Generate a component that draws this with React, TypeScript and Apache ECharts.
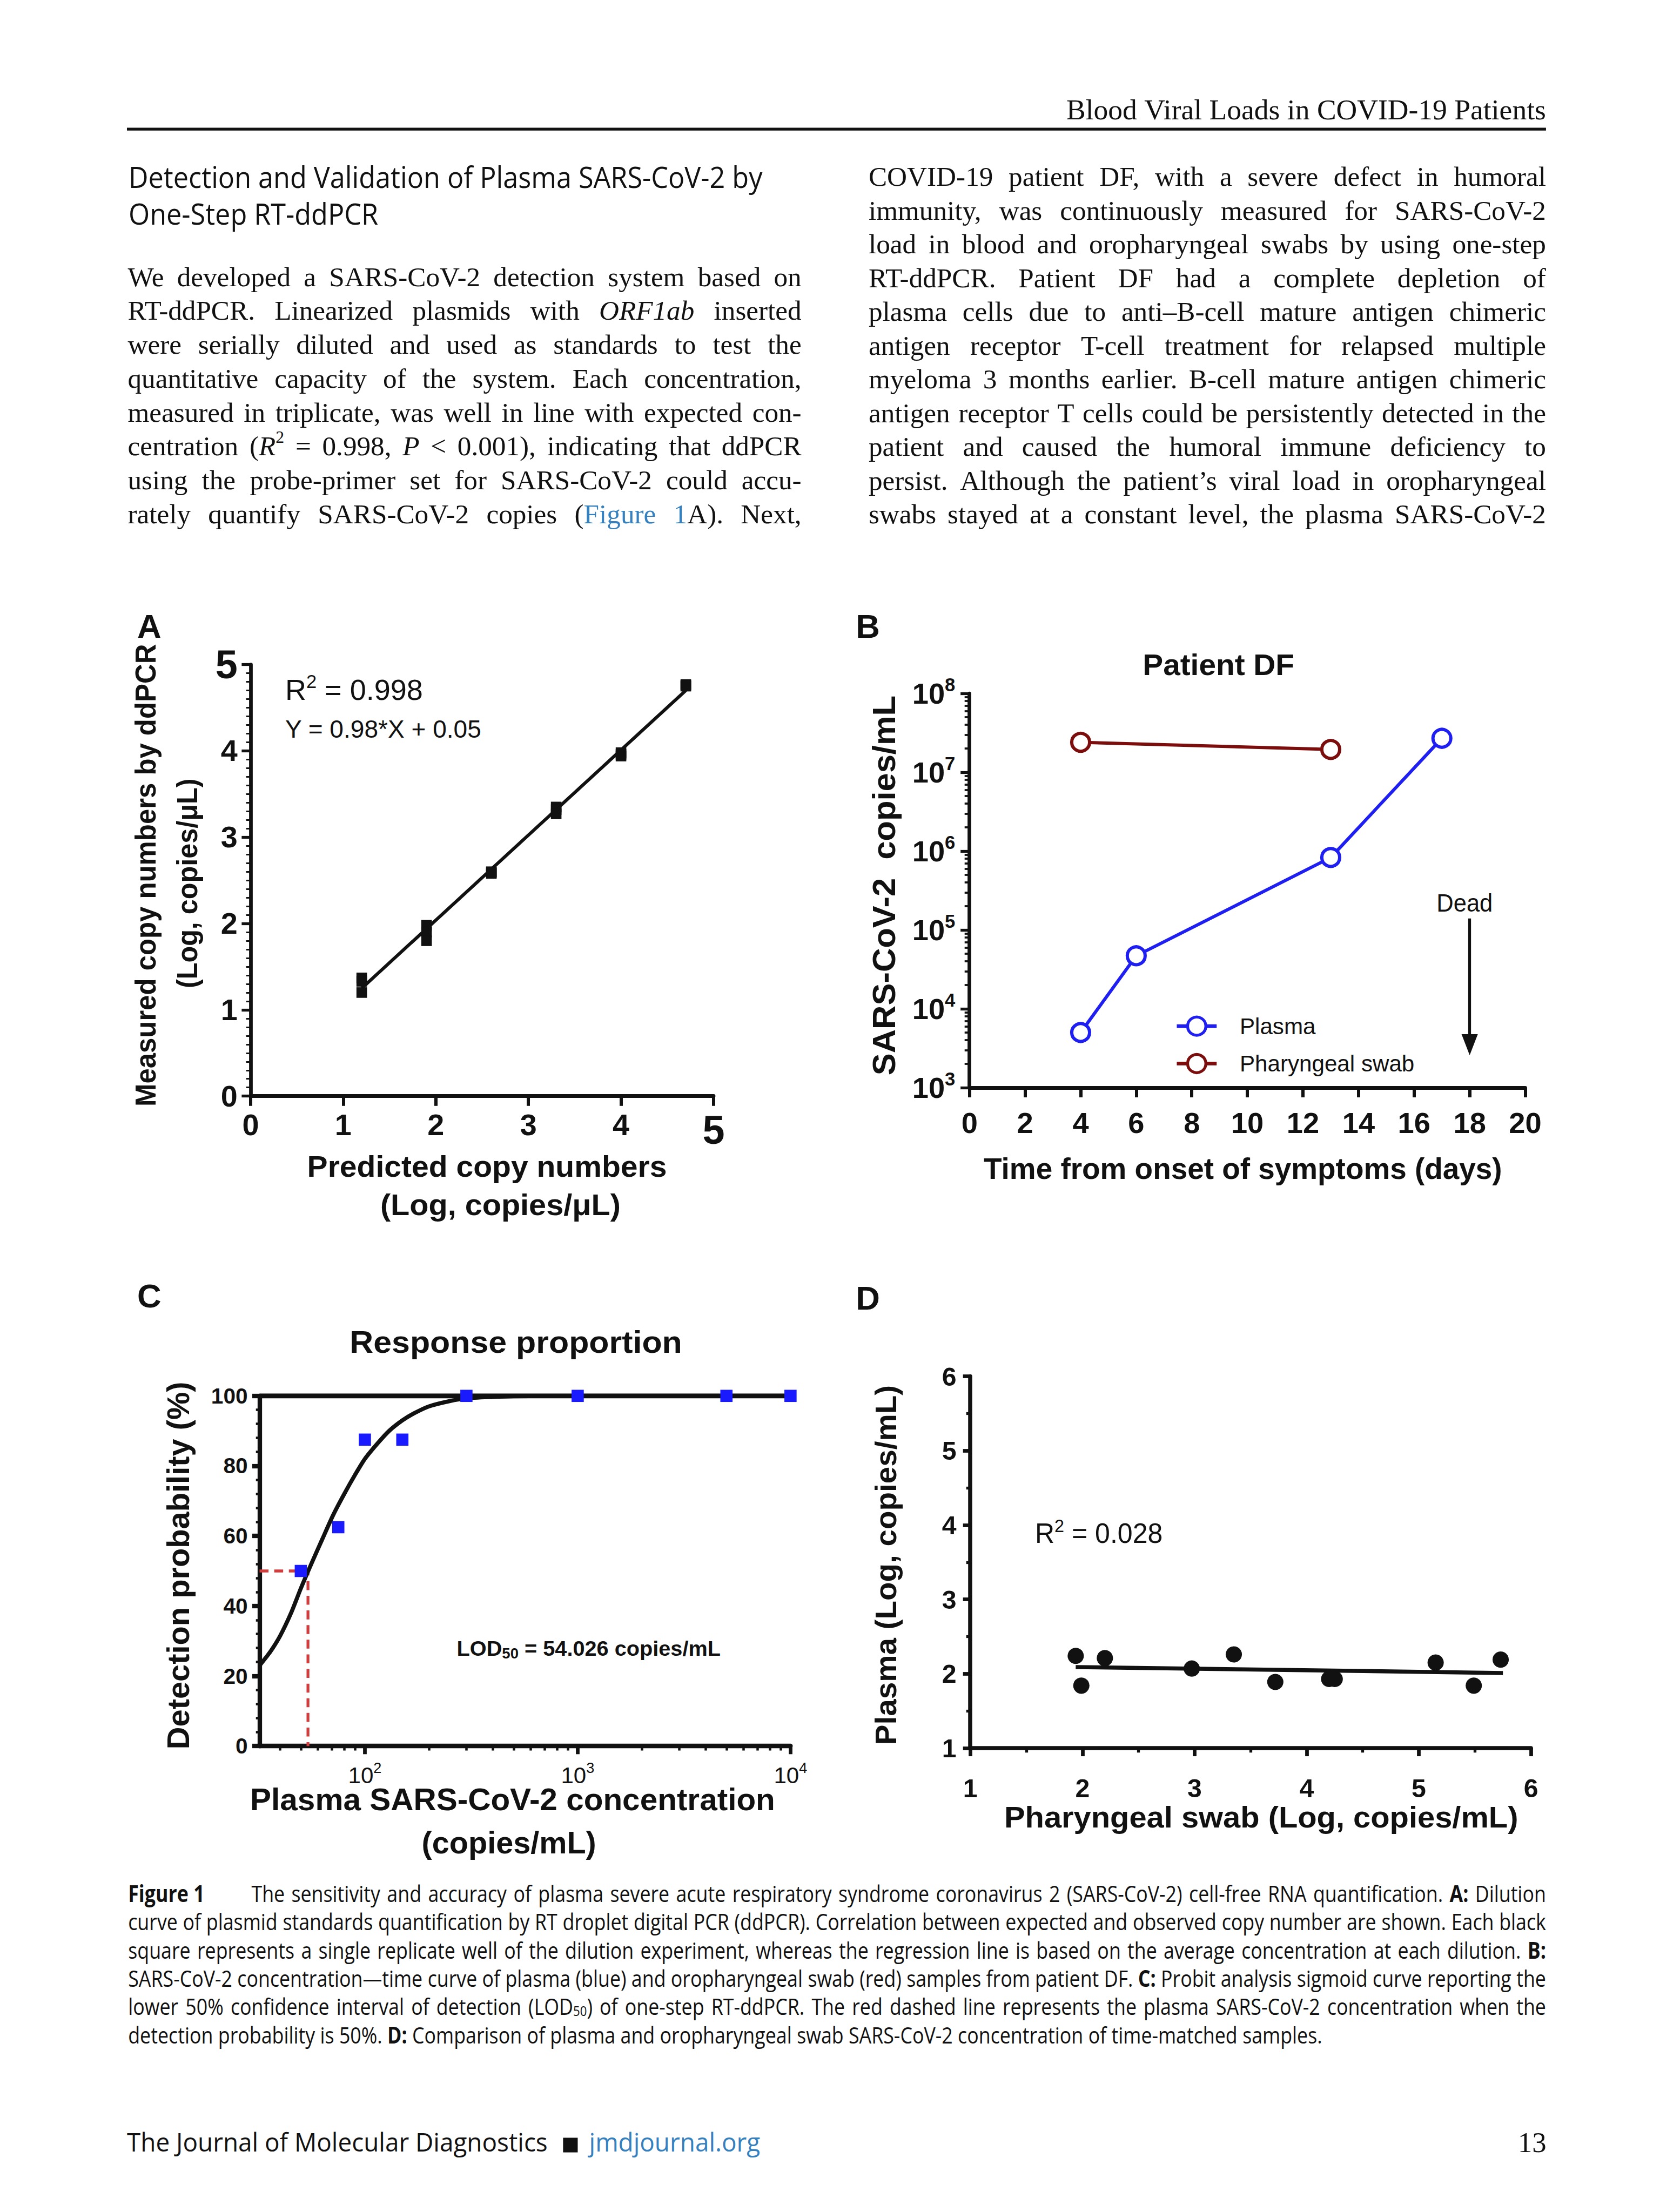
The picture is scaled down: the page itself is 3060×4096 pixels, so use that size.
import React, { useEffect, useRef } from 'react';
import * as echarts from 'echarts';

const W = 3060;
const H = 4096;
const K = W / 4063;
const p = (v: number) => v * K;

const F = "'Liberation Sans', Arial, sans-serif";
const SERIF = "'Liberation Serif', 'Times New Roman', serif";
const COND = "'Open Sans', sans-serif";
const INK = '#111111';
const BLUE = '#1f1ff2';
const DARKRED = '#7c0d0d';
const SQBLUE = '#1a1aff';
const DASHRED = '#d23c3c';
const LINK = '#3580be';

// ---------------- page text ----------------
const headerText = 'Blood Viral Loads in COVID-19 Patients';
const headingLines = ['Detection and Validation of Plasma SARS-CoV-2 by', 'One-Step RT-ddPCR'];
const leftBody = [
  'We developed a SARS-CoV-2 detection system based on',
  'RT-ddPCR. Linearized plasmids with *ORF1ab* inserted',
  'were serially diluted and used as standards to test the',
  'quantitative capacity of the system. Each concentration,',
  'measured in triplicate, was well in line with expected con-',
  'centration (*R*^2^ = 0.998, *P* < 0.001), indicating that ddPCR',
  'using the probe-primer set for SARS-CoV-2 could accu-',
  'rately quantify SARS-CoV-2 copies ({Figure 1}A). Next,',
];
const rightBody = [
  'COVID-19 patient DF, with a severe defect in humoral',
  'immunity, was continuously measured for SARS-CoV-2',
  'load in blood and oropharyngeal swabs by using one-step',
  'RT-ddPCR. Patient DF had a complete depletion of',
  'plasma cells due to anti–B-cell mature antigen chimeric',
  'antigen receptor T-cell treatment for relapsed multiple',
  'myeloma 3 months earlier. B-cell mature antigen chimeric',
  'antigen receptor T cells could be persistently detected in the',
  'patient and caused the humoral immune deficiency to',
  'persist. Although the patient’s viral load in oropharyngeal',
  'swabs stayed at a constant level, the plasma SARS-CoV-2',
];
const captionLabel = '#Figure 1#';
const captionLines = [
  'The sensitivity and accuracy of plasma severe acute respiratory syndrome coronavirus 2 (SARS-CoV-2) cell-free RNA quantification. #A:# Dilution',
  'curve of plasmid standards quantification by RT droplet digital PCR (ddPCR). Correlation between expected and observed copy number are shown. Each black',
  'square represents a single replicate well of the dilution experiment, whereas the regression line is based on the average concentration at each dilution. #B:#',
  'SARS-CoV-2 concentration—time curve of plasma (blue) and oropharyngeal swab (red) samples from patient DF. #C:# Probit analysis sigmoid curve reporting the',
  'lower 50% confidence interval of detection (LOD~50~) of one-step RT-ddPCR. The red dashed line represents the plasma SARS-CoV-2 concentration when the',
  'detection probability is 50%. #D:# Comparison of plasma and oropharyngeal swab SARS-CoV-2 concentration of time-matched samples.',
];
const footerLeft = 'The Journal of Molecular Diagnostics';
const footerLink = 'jmdjournal.org';
const pageNumber = '13';

// ---------------- panel A ----------------
const aPredicted = [1.2, 1.2, 1.2, 1.9, 1.9, 1.9, 2.6, 2.6, 2.6, 3.3, 3.3, 3.3, 4.0, 4.0, 4.0, 4.7, 4.7, 4.7];
const aMeasured = [1.37, 1.33, 1.2, 1.98, 1.9, 1.8, 2.58, 2.6, 2.59, 3.35, 3.32, 3.27, 3.98, 3.96, 3.94, 4.77, 4.76, 4.75];
const aFitX = [1.2, 4.7];
const aFitY = [1.25, 4.7];

// ---------------- panel B ----------------
const plasmaDays = [4, 6, 13, 17];
const plasmaLoad = [5000, 47000, 830000, 27000000];
const swabDays = [4, 13];
const swabLoad = [24000000, 19500000];
const deadDay = 18;
const deadArrowFrom = 140000;
const deadArrowTo = 3500;
const bDecades = [1e3, 1e4, 1e5, 1e6, 1e7, 1e8];
const logMinorSteps = [2, 3, 4, 5, 6, 7, 8, 9];

// ---------------- panel C ----------------
const cConc = [50, 75, 100, 150, 300, 1000, 5000, 10000];
const cProb = [50, 62.5, 87.5, 87.5, 100, 100, 100, 100];
const curveConc = [32, 36, 40, 45, 50, 56, 63, 71, 80, 90, 100, 115, 130, 150, 170, 200, 250, 300, 400, 500, 1000, 10000];
const curveProb = [23, 27, 31.5, 38, 45, 52, 59, 66, 72, 77.5, 82, 86.5, 90, 93, 95, 97, 98.5, 99.3, 99.7, 99.9, 100, 100];
const lod50 = 54.026;
const cMin = 32;
const cMax = 10000;
const cMajor = [100, 1000, 10000];
const cMinorDecades = [10, 100, 1000];

// ---------------- panel D ----------------
const dSwab = [1.94, 1.99, 2.2, 2.975, 3.35, 3.72, 4.2, 4.25, 5.15, 5.49, 5.73];
const dPlasma = [2.24, 1.84, 2.21, 2.07, 2.26, 1.89, 1.93, 1.93, 2.15, 1.84, 2.19];
const dFitX = [1.94, 5.75];
const dFitY = [2.09, 2.01];

// ---------------- text helpers ----------------
type Seg = { t: string; i?: boolean; b?: boolean; c?: string; sup?: boolean; sub?: boolean };

function parseWords(line: string): Seg[][] {
  const words: Seg[][] = [];
  const st = { i: false, b: false, blue: false, sup: false, sub: false };
  for (const w of line.split(' ')) {
    if (w === '') continue;
    const segs: Seg[] = [];
    let buf = '';
    const flush = () => {
      if (buf) {
        segs.push({ t: buf, i: st.i, b: st.b, c: st.blue ? LINK : undefined, sup: st.sup, sub: st.sub });
        buf = '';
      }
    };
    for (const ch of w) {
      if (ch === '*') { flush(); st.i = !st.i; }
      else if (ch === '#') { flush(); st.b = !st.b; }
      else if (ch === '^') { flush(); st.sup = !st.sup; }
      else if (ch === '~') { flush(); st.sub = !st.sub; }
      else if (ch === '{') { flush(); st.blue = true; }
      else if (ch === '}') { flush(); st.blue = false; }
      else buf += ch;
    }
    flush();
    if (segs.length) words.push(segs);
  }
  return words;
}

let ctx: CanvasRenderingContext2D | null = null;
function measure(text: string, font: string) {
  if (!ctx) ctx = document.createElement('canvas').getContext('2d');
  ctx!.font = font;
  return ctx!.measureText(text).width;
}
function segW(sg: Seg, fs: number, fam: string) {
  const size = sg.sup || sg.sub ? fs * 0.62 : fs;
  return measure(sg.t, `${sg.i ? 'italic ' : ''}${sg.b ? 'bold ' : ''}${size}px ${fam}`);
}
function natW(line: string, fs: number, fam: string) {
  const words = parseWords(line);
  const sum = words.reduce((s, w) => s + w.reduce((a, sg) => a + segW(sg, fs, fam), 0), 0);
  return sum + (words.length - 1) * segW({ t: ' ' }, fs, fam);
}

function layout(
  els: any[], line: string, x0: number, x1: number, y: number, fs: number, fam: string,
  mode: 'justify' | 'left' | 'right', k0 = 1, color = INK,
) {
  const words = parseWords(line);
  const ws = words.map((w) => w.reduce((s, sg) => s + segW(sg, fs, fam), 0));
  const sp = segW({ t: ' ' }, fs, fam);
  const sum = ws.reduce((a, b) => a + b, 0);
  const n = words.length;
  let k = k0;
  let gap = sp * k0;
  const avail = x1 - x0;
  if (mode === 'justify' && n > 1) {
    const minNat = sum * k0 + (n - 1) * sp * k0 * 0.75;
    if (minNat > avail) k = (k0 * avail) / minNat;
    gap = (avail - sum * k) / (n - 1);
  }
  let cx = mode === 'right' ? x1 - (sum * k + (n - 1) * gap) : x0;
  words.forEach((w) => {
    w.forEach((sg) => {
      const size = sg.sup || sg.sub ? fs * 0.62 : fs;
      const dy = sg.sup ? -0.32 * fs : sg.sub ? 0.2 * fs : 0;
      els.push({
        type: 'text', silent: true, x: p(cx), y: p(y + dy), scaleX: k,
        style: {
          text: sg.t, fontSize: p(size), fontFamily: fam,
          fontStyle: sg.i ? 'italic' : 'normal', fontWeight: sg.b ? 'bold' : 'normal',
          fill: sg.c || color, align: 'left', verticalAlign: 'middle',
          textAlign: 'left', textVerticalAlign: 'middle',
        },
      });
      cx += segW(sg, fs, fam) * k;
    });
    cx += gap;
  });
}

// plain / rich text; optional target width w (full-size px) squeezes or stretches it horizontally
function T(x: number, y: number, text: string, fs: number, o: any = {}) {
  let k = 1;
  if (o.w) {
    const nat = measure(o.plain || text, `${o.bold ? 'bold ' : ''}${fs}px ${o.font || F}`);
    k = o.w / nat;
  }
  return {
    type: 'text', silent: true, x: p(x), y: p(y), rotation: o.rot || 0, scaleX: k,
    style: {
      text, fontSize: p(fs), fontFamily: o.font || F, fontWeight: o.bold ? 'bold' : 'normal',
      fill: o.color || INK, align: o.align || 'center', verticalAlign: 'middle',
      textAlign: o.align || 'center', textVerticalAlign: 'middle', rich: o.rich,
    },
  };
}

function zip(a: number[], b: number[]) {
  return a.map((v, i) => [v, b[i]]);
}

function buildOption() {
  const els: any[] = [];
  // header
  const kHead = 1179 / natW(headerText, 70, SERIF);
  layout(els, headerText, 2621, 3800, 270, 70, SERIF, 'right', kHead);
  els.push({ type: 'rect', silent: true, shape: { x: p(312), y: p(314), width: p(3488), height: p(7) }, style: { fill: INK } });
  // heading
  const kHd = 1558 / natW(headingLines[0], 72, COND);
  layout(els, headingLines[0], 316, 1874, 434, 72, COND, 'left', kHd);
  layout(els, headingLines[1], 316, 1874, 524, 72, COND, 'left', kHd);
  // body
  leftBody.forEach((l, i) => layout(els, l, 314, 1970, 680 + 83.3 * i, 68, SERIF, 'justify'));
  rightBody.forEach((l, i) => layout(els, l, 2135, 3800, 434 + 83.0 * i, 68, SERIF, 'justify'));
  // caption
  const kCap = 2935 / natW(captionLines[5], 56, COND);
  layout(els, captionLabel, 315, 600, 4654, 56, COND, 'left', kCap);
  captionLines.forEach((l, i) => {
    const y = 4654 + 69.6 * i;
    if (i === 0) layout(els, l, 618, 3800, y, 56, COND, 'justify', kCap);
    else if (i === captionLines.length - 1) layout(els, l, 315, 3800, y, 56, COND, 'left', kCap);
    else layout(els, l, 315, 3800, y, 56, COND, 'justify', kCap);
  });
  // footer
  const kFoot = 1034 / natW(footerLeft, 62, COND);
  layout(els, footerLeft, 312, 1345, 5267, 62, COND, 'left', kFoot);
  els.push({ type: 'rect', silent: true, shape: { x: p(1384), y: p(5256), width: p(36), height: p(36) }, style: { fill: INK } });
  layout(els, footerLink, 1448, 1870, 5267, 62, COND, 'left', kFoot, LINK);
  layout(els, pageNumber, 3600, 3801, 5267, 70, SERIF, 'right');

  // panel letters
  els.push(T(367, 1540, 'A', 82, { bold: true }));
  els.push(T(2133, 1540, 'B', 82, { bold: true }));
  els.push(T(367, 3186, 'C', 82, { bold: true }));
  els.push(T(2133, 3191, 'D', 82, { bold: true }));

  // panel A texts
  els.push(T(1197, 2868, 'Predicted copy numbers', 74, { bold: true, w: 884 }));
  els.push(T(1230, 2962, '(Log, copies/μL)', 74, { bold: true, w: 591 }));
  els.push(T(357, 2152, 'Measured copy numbers by ddPCR', 72, { bold: true, rot: Math.PI / 2, w: 1137 }));
  els.push(T(460, 2172, '(Log, copies/μL)', 72, { bold: true, rot: Math.PI / 2, w: 516 }));
  els.push(T(701, 1695, '{r|R}{s|2}{r| = 0.998}', 72, {
    align: 'left', w: 353, plain: 'R2 = 0.998',
    rich: {
      r: { fontSize: p(72), fontFamily: F, color: INK, lineHeight: p(86) },
      s: { fontSize: p(46), fontFamily: F, color: INK, lineHeight: p(40), verticalAlign: 'top' },
    },
  }));
  els.push(T(701, 1792, 'Y = 0.98*X + 0.05', 62, { align: 'left', w: 483 }));

  // panel B texts
  els.push(T(2995, 1634, 'Patient DF', 74, { bold: true, w: 373 }));
  els.push(T(3055, 2873, 'Time from onset of symptoms (days)', 74, { bold: true, w: 1275 }));
  els.push(T(2173, 2177, 'SARS-CoV-2  copies/mL', 78, { bold: true, rot: Math.PI / 2, w: 934 }));
  els.push(T(3600, 2220, 'Dead', 62, { w: 138 }));

  // panel C texts
  els.push(T(1268, 3301, 'Response proportion', 76, { bold: true, w: 818 }));
  els.push(T(1260, 4425, 'Plasma SARS-CoV-2 concentration', 76, { bold: true, w: 1290 }));
  els.push(T(1251, 4531, '(copies/mL)', 76, { bold: true, w: 429 }));
  els.push(T(438, 3849, 'Detection probability (%)', 76, { bold: true, rot: Math.PI / 2, w: 904 }));
  els.push(T(1447, 4052, `{b|LOD}{s|50}{b| = ${lod50} copies/mL}`, 52, {
    bold: true, w: 667, plain: `LOD50 = ${lod50} copies/mL`,
    rich: {
      b: { fontSize: p(52), fontFamily: F, fontWeight: 'bold', color: INK, lineHeight: p(62) },
      s: { fontSize: p(36), fontFamily: F, fontWeight: 'bold', color: INK, lineHeight: p(52), verticalAlign: 'bottom' },
    },
  }));

  // panel D texts
  els.push(T(3100, 4468, 'Pharyngeal swab (Log, copies/mL)', 74, { bold: true, w: 1263 }));
  els.push(T(2177, 3848, 'Plasma (Log, copies/mL)', 74, { bold: true, rot: Math.PI / 2, w: 885 }));
  els.push(T(2544, 3770, '{r|R}{s|2}{r| = 0.028}', 68, {
    align: 'left', w: 327, plain: 'R2 = 0.028',
    rich: {
      r: { fontSize: p(68), fontFamily: F, color: INK, lineHeight: p(82) },
      s: { fontSize: p(44), fontFamily: F, color: INK, lineHeight: p(38), verticalAlign: 'top' },
    },
  }));

  const lbl = (fs: number, bold = true) => ({ fontSize: p(fs), fontFamily: F, fontWeight: bold ? 'bold' : 'normal', color: INK });
  const bBig = { fontSize: p(72), fontFamily: F, fontWeight: 'bold', color: INK, lineHeight: p(88) };
  const bSup = { fontSize: p(46), fontFamily: F, fontWeight: 'bold', color: INK, lineHeight: p(38), verticalAlign: 'top' };
  const cBig = { fontSize: p(56), fontFamily: F, color: INK, lineHeight: p(72) };
  const cSup = { fontSize: p(36), fontFamily: F, color: INK, lineHeight: p(30), verticalAlign: 'top' };
  const powFmt = (v: number) => {
    const l = Math.log10(v);
    if (Math.abs(l - Math.round(l)) > 1e-6) return '';
    return `{b|10}{s|${Math.round(l)}}`;
  };
  const bMinor: number[] = [];
  bDecades.slice(0, -1).forEach((d) => logMinorSteps.forEach((m) => bMinor.push(d * m)));
  const cMinor: number[] = [];
  cMinorDecades.forEach((d) => logMinorSteps.forEach((m) => { const v = d * m; if (v > cMin && v < cMax) cMinor.push(v); }));

  const grid = (l: number, t: number, w: number, h: number) => ({
    left: p(l), top: p(t), width: p(w), height: p(h), containLabel: false, outerBoundsMode: 'none',
  });

  const axLine = (w: number) => ({ show: true, onZero: false, lineStyle: { color: INK, width: p(w) } });
  const tick = (len: number, w: number, extra: any = {}) => ({ show: true, length: p(len), lineStyle: { color: INK, width: p(w) }, ...extra });
  const noSplit = { show: false };

  const option: any = {
    animation: false,
    backgroundColor: '#ffffff',
    textStyle: { fontFamily: F },
    grid: [
      grid(616, 1634, 1138, 1061),
      grid(2383, 1705, 1366, 969),
      grid(638, 3432, 1305, 861),
      grid(2385, 3384, 1378, 914),
    ],
    xAxis: [
      {
        gridIndex: 0, type: 'value', min: 0, max: 5, interval: 1, axisLine: axLine(9), axisTick: tick(24, 8),
        splitLine: noSplit, showMinLabel: true, showMaxLabel: true,
        axisLabel: {
          margin: p(34), formatter: (v: number) => (v === 5 ? '{big|5}' : `{n|${v}}`),
          rich: { n: lbl(74), big: lbl(98) },
        },
      },
      {
        gridIndex: 1, type: 'value', min: 0, max: 20, interval: 2, axisLine: axLine(9), axisTick: tick(24, 8),
        splitLine: noSplit, showMinLabel: true, showMaxLabel: true,
        axisLabel: { margin: p(51), ...lbl(72) },
      },
      {
        gridIndex: 2, type: 'log', logBase: 10, min: cMin, max: cMax, position: 'bottom',
        axisLine: axLine(11), axisTick: tick(20, 9, { customValues: cMajor }), splitLine: noSplit,
        axisLabel: { margin: p(36), customValues: cMajor, formatter: powFmt, rich: { b: cBig, s: cSup } },
      },
      {
        gridIndex: 2, type: 'log', logBase: 10, min: cMin, max: cMax, position: 'bottom',
        axisLine: { show: false }, axisLabel: { show: false }, splitLine: noSplit,
        axisTick: tick(11, 6, { customValues: cMinor }),
      },
      {
        gridIndex: 3, type: 'value', min: 1, max: 6, interval: 1, axisLine: axLine(10), axisTick: tick(20, 9),
        minorTick: { show: true, splitNumber: 2, length: p(11), lineStyle: { color: INK, width: p(7) } },
        splitLine: noSplit, minorSplitLine: { show: false }, showMinLabel: true, showMaxLabel: true,
        axisLabel: { margin: p(67), ...lbl(64) },
      },
    ],
    yAxis: [
      {
        gridIndex: 0, type: 'value', min: 0, max: 5, interval: 1, axisLine: axLine(9), axisTick: tick(22, 7),
        minorTick: { show: true, splitNumber: 10, length: p(11), lineStyle: { color: INK, width: p(4) } },
        splitLine: noSplit, minorSplitLine: { show: false }, showMinLabel: true, showMaxLabel: true,
        axisLabel: {
          margin: p(32), formatter: (v: number) => (v === 5 ? '{big|5}' : `{n|${v}}`),
          rich: { n: lbl(74), big: lbl(98) },
        },
      },
      {
        gridIndex: 1, type: 'log', logBase: 10, min: 1e3, max: 1e8, position: 'left',
        axisLine: axLine(9), axisTick: tick(22, 7, { customValues: bDecades }), splitLine: noSplit,
        axisLabel: { margin: p(35), customValues: bDecades, formatter: powFmt, rich: { b: bBig, s: bSup } },
      },
      {
        gridIndex: 1, type: 'log', logBase: 10, min: 1e3, max: 1e8, position: 'left',
        axisLine: { show: false }, axisLabel: { show: false }, splitLine: noSplit,
        axisTick: tick(12, 5, { customValues: bMinor }),
      },
      {
        gridIndex: 2, type: 'value', min: 0, max: 100, interval: 20, axisLine: axLine(11), axisTick: tick(18, 11),
        minorTick: { show: true, splitNumber: 5, length: p(9), lineStyle: { color: INK, width: p(6) } },
        splitLine: noSplit, minorSplitLine: { show: false }, showMinLabel: true, showMaxLabel: true,
        axisLabel: { margin: p(29), ...lbl(54) },
      },
      {
        gridIndex: 3, type: 'value', min: 1, max: 6, interval: 1, axisLine: axLine(10), axisTick: tick(18, 9),
        minorTick: { show: true, splitNumber: 2, length: p(10), lineStyle: { color: INK, width: p(7) } },
        splitLine: noSplit, minorSplitLine: { show: false }, showMinLabel: true, showMaxLabel: true,
        axisLabel: { margin: p(34), ...lbl(64) },
      },
    ],
    legend: {
      show: true, data: ['Plasma', 'Pharyngeal swab'], orient: 'vertical', selectedMode: false,
      left: p(2888), top: p(2523) - p(56) / 2, padding: 0,
      itemWidth: p(98), itemHeight: p(56), itemGap: p(92) - p(56),
      lineStyle: { width: p(9) },
      itemStyle: { borderWidth: p(7) },
      textStyle: { fontSize: p(56), fontFamily: F, color: INK, lineHeight: p(56), padding: [0, 0, 0, p(50)] },
    },
    series: [
      // A
      {
        type: 'line', xAxisIndex: 0, yAxisIndex: 0, data: zip(aFitX, aFitY), symbol: 'none', silent: true,
        lineStyle: { color: INK, width: p(8) }, z: 2,
      },
      {
        type: 'scatter', xAxisIndex: 0, yAxisIndex: 0, data: zip(aPredicted, aMeasured), symbol: 'rect',
        symbolSize: p(26), itemStyle: { color: INK, opacity: 1 }, silent: true, z: 3,
      },
      // B
      {
        type: 'line', name: 'Plasma', xAxisIndex: 1, yAxisIndex: 1, data: zip(plasmaDays, plasmaLoad),
        symbol: 'circle', symbolSize: p(44), lineStyle: { color: BLUE, width: p(8) },
        itemStyle: { color: '#ffffff', borderColor: BLUE, borderWidth: p(8) }, silent: true, z: 3,
        markLine: {
          silent: true, symbol: ['none', 'triangle'], symbolSize: [p(40), p(52)],
          lineStyle: { color: INK, width: p(7), type: 'solid' }, label: { show: false },
          data: [[{ coord: [deadDay, deadArrowFrom] }, { coord: [deadDay, deadArrowTo] }]],
        },
      },
      {
        type: 'line', name: 'Pharyngeal swab', xAxisIndex: 1, yAxisIndex: 1, data: zip(swabDays, swabLoad),
        symbol: 'circle', symbolSize: p(44), lineStyle: { color: DARKRED, width: p(8) },
        itemStyle: { color: '#ffffff', borderColor: DARKRED, borderWidth: p(8) }, silent: true, z: 3,
      },
      // C
      {
        type: 'line', xAxisIndex: 2, yAxisIndex: 3, data: [[cMin, 100], [cMax, 100]], symbol: 'none', silent: true,
        lineStyle: { color: INK, width: p(12) }, z: 2,
      },
      {
        type: 'line', xAxisIndex: 2, yAxisIndex: 3, data: [[cMin, 50], [lod50, 50], [lod50, 0]], symbol: 'none',
        silent: true, lineStyle: { color: DASHRED, width: p(7), type: [p(22), p(14)] }, z: 2,
      },
      {
        type: 'line', xAxisIndex: 2, yAxisIndex: 3, data: zip(curveConc, curveProb), symbol: 'none', silent: true,
        smooth: 0.25, lineStyle: { color: INK, width: p(10) }, z: 3,
      },
      {
        type: 'scatter', xAxisIndex: 2, yAxisIndex: 3, data: zip(cConc, cProb), symbol: 'rect', symbolSize: p(30),
        itemStyle: { color: SQBLUE, opacity: 1 }, silent: true, z: 4,
      },
      // D
      {
        type: 'line', xAxisIndex: 4, yAxisIndex: 4, data: zip(dFitX, dFitY), symbol: 'none', silent: true,
        lineStyle: { color: INK, width: p(10) }, z: 2,
      },
      {
        type: 'scatter', xAxisIndex: 4, yAxisIndex: 4, data: zip(dSwab, dPlasma), symbol: 'circle',
        symbolSize: p(40), itemStyle: { color: INK, opacity: 1 }, silent: true, z: 3,
      },
    ],
    graphic: { elements: els },
  };
  return option;
}

export default function App() {
  const ref = useRef<HTMLDivElement>(null);
  useEffect(() => {
    if (!ref.current) return;
    const chart = echarts.init(ref.current, undefined, { renderer: 'svg', width: W, height: H });
    chart.setOption(buildOption());
    return () => chart.dispose();
  }, []);
  return (
    <div
      ref={ref}
      style={{ position: 'absolute', left: 0, top: 0, width: W, height: H, background: '#ffffff' }}
    />
  );
}
